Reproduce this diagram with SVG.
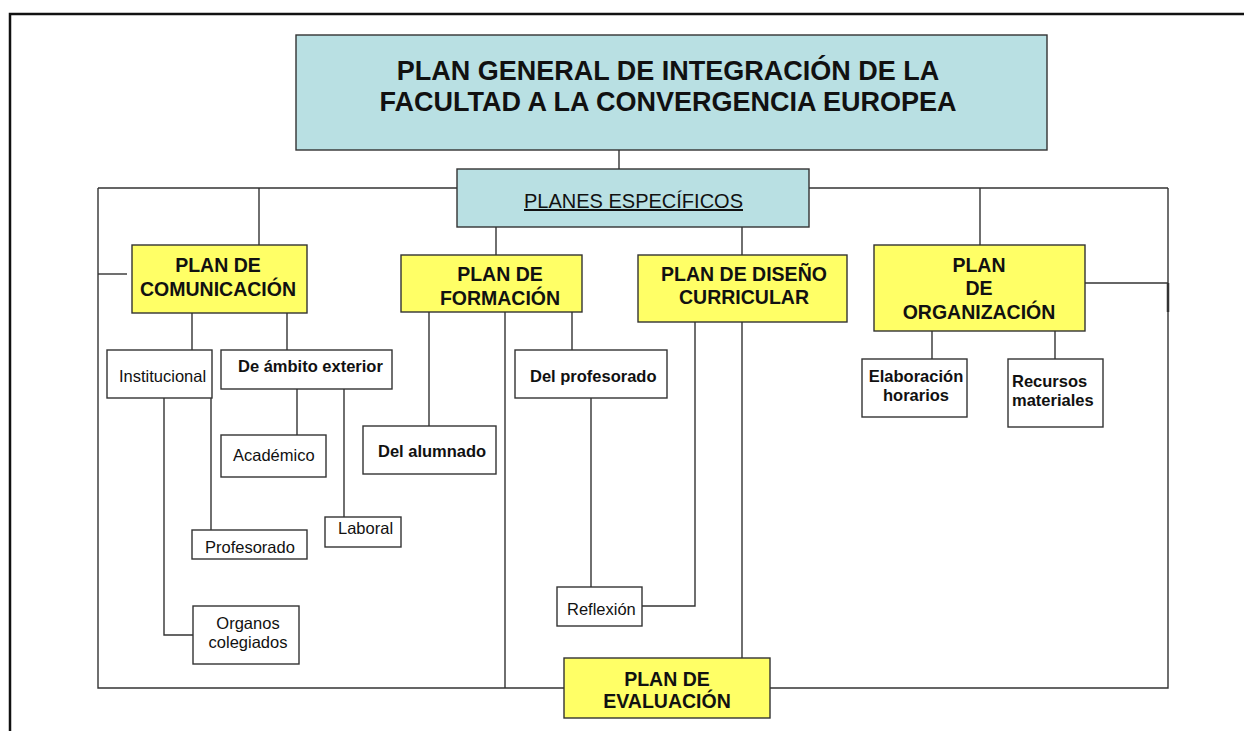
<svg xmlns="http://www.w3.org/2000/svg" width="1244" height="731" viewBox="0 0 1244 731">
<style>
.frame{stroke:#111;stroke-width:2.5;fill:none}
.c{stroke:#333;stroke-width:1.4;fill:none}
.blue{fill:#b9e0e3;stroke:#333;stroke-width:1.4}
.yel{fill:#ffff66;stroke:#333;stroke-width:1.4}
.wht{fill:#fff;stroke:#333;stroke-width:1.4}
text{font-family:"Liberation Sans",Arial,sans-serif;fill:#111}
.t1{font-size:27px;font-weight:bold;text-anchor:middle}
.t2{font-size:19.5px;font-weight:bold;text-anchor:middle}
.b{font-size:16.5px;font-weight:bold}
.r{font-size:16.5px}
.m{text-anchor:middle}
</style>
<rect width="1244" height="731" fill="#fff"/>
<path class="frame" d="M10,731 V14 H1244"/>
<g id="connectors">
<path class="c" d="M619,150 V169"/>
<path class="c" d="M98,188 H1168 M98,188 V688 H1168 V188"/>
<path class="c" d="M1168,283 V312" style="stroke-width:2.5"/>
<path class="c" d="M259,188 V245"/>
<path class="c" d="M98,274 H127"/>
<path class="c" d="M496,227 V255"/>
<path class="c" d="M742,227 V255"/>
<path class="c" d="M980,188 V245"/>
<path class="c" d="M1085,283 H1168"/>
<path class="c" d="M192,313 V350"/>
<path class="c" d="M287,313 V350"/>
<path class="c" d="M164,398 V635 H193"/>
<path class="c" d="M211,398 V530"/>
<path class="c" d="M297,389 V435"/>
<path class="c" d="M344,389 V520"/>
<path class="c" d="M429,312 V426"/>
<path class="c" d="M505,312 V688"/>
<path class="c" d="M572,312 V350"/>
<path class="c" d="M591,398 V587"/>
<path class="c" d="M695,322 V606 H642"/>
<path class="c" d="M742,322 V658"/>
<path class="c" d="M932,331 V359"/>
<path class="c" d="M1055,331 V359"/>
</g>
<g id="title">
<rect class="blue" x="296" y="35" width="751" height="115"/>
<text class="t1" x="668" y="80">PLAN GENERAL DE INTEGRACIÓN DE LA</text>
<text class="t1" x="668" y="111">FACULTAD A LA CONVERGENCIA EUROPEA</text>
</g>
<g id="planes">
<rect class="blue" x="457" y="169" width="352" height="58"/>
<text x="633.5" y="208" class="m" style="font-size:20px;text-decoration:underline">PLANES ESPECÍFICOS</text>
</g>
<g id="comunicacion">
<rect class="yel" x="132" y="245" width="175" height="68"/>
<text class="t2" x="218" y="272">PLAN DE</text>
<text class="t2" x="218" y="296">COMUNICACIÓN</text>
</g>
<g id="formacion">
<rect class="yel" x="401" y="255" width="181" height="57"/>
<text class="t2" x="500" y="281">PLAN DE</text>
<text class="t2" x="500" y="305">FORMACIÓN</text>
</g>
<g id="diseno">
<rect class="yel" x="638" y="255" width="209" height="67"/>
<text class="t2" x="744" y="281">PLAN DE DISEÑO</text>
<text class="t2" x="744" y="304">CURRICULAR</text>
</g>
<g id="organizacion">
<rect class="yel" x="874" y="245" width="211" height="86"/>
<text class="t2" x="979" y="272">PLAN</text>
<text class="t2" x="979" y="295">DE</text>
<text class="t2" x="979" y="319">ORGANIZACIÓN</text>
</g>
<g id="evaluacion">
<rect class="yel" x="564" y="658" width="206" height="60"/>
<text class="t2" x="667" y="686">PLAN DE</text>
<text class="t2" x="667" y="708">EVALUACIÓN</text>
</g>
<g id="institucional">
<rect class="wht" x="107" y="350" width="105" height="48"/>
<text class="r" x="119" y="382">Institucional</text>
</g>
<g id="ambito-exterior">
<rect class="wht" x="221" y="350" width="171" height="39"/>
<text class="b" x="238" y="372">De ámbito exterior</text>
</g>
<g id="academico">
<rect class="wht" x="221" y="435" width="105" height="42"/>
<text class="r" x="233" y="461">Académico</text>
</g>
<g id="profesorado">
<rect class="wht" x="192" y="530" width="115" height="29"/>
<text class="r" x="205" y="553">Profesorado</text>
</g>
<g id="laboral">
<rect class="wht" x="325" y="517" width="76" height="30"/>
<text class="r" x="338" y="534">Laboral</text>
</g>
<g id="organos">
<rect class="wht" x="193" y="606" width="106" height="58"/>
<text class="r m" x="248" y="629">Organos</text>
<text class="r m" x="248" y="648">colegiados</text>
</g>
<g id="alumnado">
<rect class="wht" x="363" y="426" width="133" height="48"/>
<text class="b" x="378" y="457">Del alumnado</text>
</g>
<g id="del-profesorado">
<rect class="wht" x="515" y="350" width="152" height="48"/>
<text class="b" x="530" y="382">Del profesorado</text>
</g>
<g id="reflexion">
<rect class="wht" x="557" y="587" width="85" height="39"/>
<text class="r" x="567" y="615">Reflexión</text>
</g>
<g id="elaboracion">
<rect class="wht" x="862" y="359" width="105" height="58"/>
<text class="b m" x="916" y="382">Elaboración</text>
<text class="b m" x="916" y="401">horarios</text>
</g>
<g id="recursos">
<rect class="wht" x="1008" y="359" width="95" height="68"/>
<text class="b" x="1012" y="387">Recursos</text>
<text class="b" x="1012" y="406">materiales</text>
</g>
</svg>
